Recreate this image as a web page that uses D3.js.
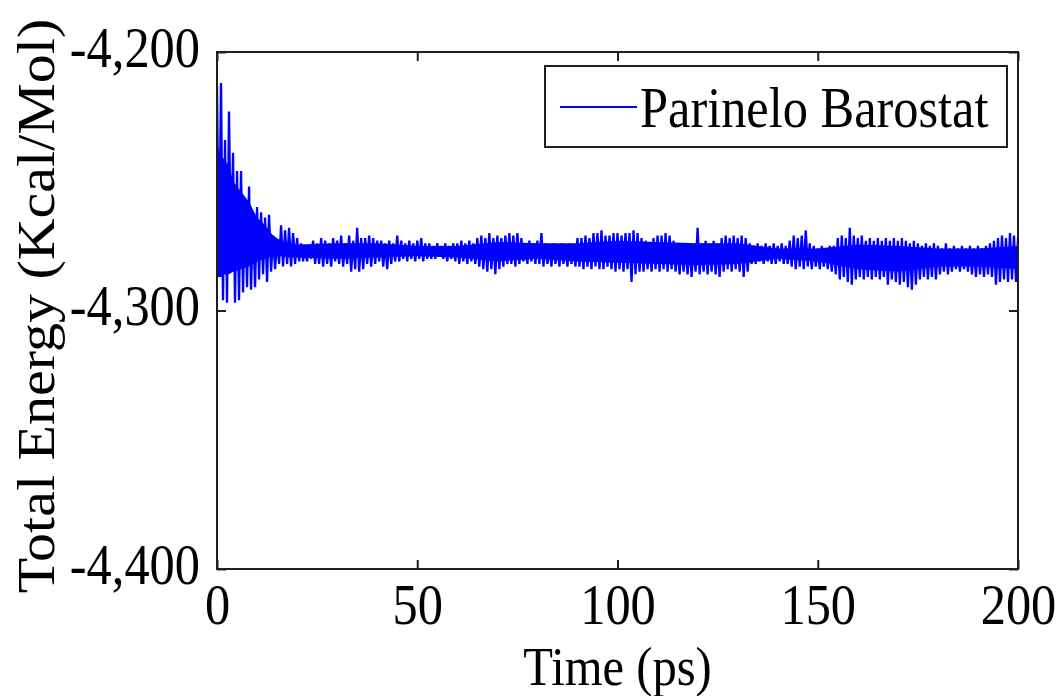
<!DOCTYPE html>
<html>
<head>
<meta charset="utf-8">
<script src="https://cdn.jsdelivr.net/npm/d3@7/dist/d3.min.js"></script>
<style>
  html, body { margin: 0; padding: 0; background: #fff; }
  svg { display: block; }
</style>
</head>
<body>
<svg id="chart" width="1060" height="696"></svg>
<script>
// ---- data ----
const seriesName = "Parinelo Barostat";
const xTicks = [0, 50, 100, 150, 200];
const yTicks = [-4400, -4300, -4200];
const yTickLabels = ["-4,400", "-4,300", "-4,200"];
const xLabel = "Time (ps)";
const yLabel = "Total Energy (Kcal/Mol)";
const timePs = d3.range(0, 201); // sample times 0..200 ps (1 ps bins)

// upper envelope (max within each 1 ps bin), Kcal/Mol
const energyHigh = [
  -4213, -4212, -4234, -4223, -4239, -4246, -4246, -4257, -4252, -4265,
  -4260, -4262, -4264, -4263, -4271, -4273, -4267, -4269, -4268, -4270,
  -4272, -4274, -4276, -4275, -4273, -4274, -4272, -4273, -4274, -4272,
  -4273, -4271, -4274, -4271, -4273, -4268, -4272, -4272, -4271, -4272,
  -4273, -4273, -4274, -4273, -4274, -4271, -4273, -4274, -4273, -4274,
  -4273, -4272, -4274, -4274, -4275, -4274, -4275, -4274, -4275, -4274,
  -4274, -4273, -4274, -4273, -4274, -4272, -4271, -4272, -4270, -4272,
  -4271, -4272, -4271, -4270, -4271, -4270, -4272, -4274, -4273, -4274,
  -4273, -4270, -4274, -4275, -4274, -4275, -4274, -4275, -4274, -4275,
  -4272, -4272, -4271, -4272, -4270, -4270, -4269, -4271, -4271, -4270,
  -4270, -4271, -4270, -4270, -4269, -4270, -4272, -4273, -4274, -4272,
  -4271, -4271, -4270, -4271, -4273, -4275, -4274, -4275, -4274, -4275,
  -4268, -4274, -4273, -4274, -4273, -4274, -4272, -4271, -4272, -4271,
  -4272, -4271, -4272, -4274, -4275, -4274, -4275, -4274, -4275, -4274,
  -4275, -4274, -4275, -4273, -4271, -4272, -4271, -4269, -4274, -4275,
  -4276, -4275, -4276, -4275, -4275, -4272, -4271, -4272, -4268, -4271,
  -4272, -4271, -4273, -4272, -4273, -4272, -4273, -4272, -4273, -4272,
  -4273, -4272, -4273, -4274, -4273, -4274, -4275, -4274, -4275, -4274,
  -4275, -4276, -4274, -4276, -4275, -4276, -4275, -4276, -4275, -4276,
  -4275, -4276, -4275, -4274, -4273, -4272, -4271, -4272, -4270, -4271,
  -4272
];
// lower envelope (min within each 1 ps bin), Kcal/Mol
const energyLow = [
  -4286, -4296, -4297, -4283, -4297, -4296, -4293, -4291, -4292, -4291,
  -4288, -4286, -4289, -4285, -4284, -4282, -4283, -4282, -4283, -4282,
  -4281, -4281, -4281, -4280, -4282, -4282, -4283, -4282, -4283, -4281,
  -4282, -4283, -4282, -4285, -4284, -4285, -4284, -4282, -4283, -4282,
  -4281, -4283, -4284, -4282, -4281, -4281, -4280, -4281, -4280, -4281,
  -4280, -4281, -4280, -4280, -4280, -4279, -4280, -4281, -4280, -4281,
  -4282, -4281, -4282, -4281, -4282, -4283, -4284, -4285, -4284, -4286,
  -4284, -4283, -4282, -4282, -4283, -4282, -4281, -4282, -4281, -4282,
  -4282, -4283, -4282, -4283, -4282, -4283, -4282, -4283, -4282, -4283,
  -4283, -4284, -4283, -4284, -4283, -4284, -4284, -4283, -4284, -4285,
  -4284, -4285, -4284, -4289, -4286, -4285, -4285, -4284, -4285, -4284,
  -4285, -4284, -4285, -4284, -4285, -4286, -4285, -4286, -4287, -4285,
  -4286, -4285, -4286, -4285, -4286, -4287, -4285, -4284, -4285, -4284,
  -4285, -4287, -4285, -4282, -4282, -4281, -4282, -4281, -4282, -4282,
  -4281, -4282, -4282, -4283, -4284, -4283, -4284, -4283, -4284, -4283,
  -4284, -4283, -4284, -4285, -4286, -4288, -4287, -4289, -4290, -4288,
  -4287, -4288, -4287, -4288, -4287, -4288, -4287, -4290, -4288, -4289,
  -4290, -4289, -4291, -4292, -4290, -4288, -4287, -4288, -4287, -4288,
  -4286, -4285, -4286, -4285, -4284, -4285, -4284, -4285, -4286, -4287,
  -4286, -4287, -4286, -4287, -4290, -4289, -4288, -4289, -4288, -4289,
  -4288
];

// densely filled core of the trace (where the oscillation is solid blue)
const coreTime = [0, 1, 2, 3, 4, 6, 8, 10, 12, 14, 16, 18, 20, 30, 40, 50, 60, 70, 80,
                  90, 100, 110, 120, 130, 140, 150, 160, 170, 180, 190, 200];
const coreHigh = [-4236, -4240, -4242, -4244, -4250, -4254, -4258, -4264, -4267, -4271,
                  -4273, -4274, -4274.5, -4274, -4274, -4275, -4275, -4273.5, -4274,
                  -4274, -4273, -4273.5, -4274, -4274, -4276, -4276, -4274.5, -4275,
                  -4276, -4276, -4275];
const coreLow  = [-4287, -4287, -4286, -4286, -4285, -4284, -4283, -4281, -4280, -4279,
                  -4279, -4279.5, -4279.5, -4280, -4279.5, -4279, -4279.5, -4281, -4280,
                  -4281, -4281.5, -4282, -4282.5, -4282, -4280, -4281, -4284, -4285,
                  -4283, -4283, -4284];

// ---- layout ----
const svg = d3.select("#chart");
const W = 1060, H = 696;
const M = { left: 217, right: 1018, top: 52, bottom: 569 };
const FONT = 56, SX = 0.9;
const FAMILY = "'Liberation Serif', 'Times New Roman', Times, serif";
const ink = "#1f1f1f";
const blue = "#0000ff";

svg.append("rect").attr("width", W).attr("height", H).attr("fill", "#fff");

const x = d3.scaleLinear().domain([0, 200]).range([M.left, M.right]);
const y = d3.scaleLinear().domain([-4400, -4200]).range([M.bottom, M.top]);

svg.append("clipPath").attr("id", "clip")
  .append("rect").attr("x", M.left).attr("y", M.top)
  .attr("width", M.right - M.left).attr("height", M.bottom - M.top);

const plot = svg.append("g").attr("clip-path", "url(#clip)");

// solid core
const area = d3.area()
  .x((d, i) => x(coreTime[i]))
  .y0((d, i) => y(coreLow[i]))
  .y1((d, i) => y(coreHigh[i]));
plot.append("path")
  .attr("d", area(coreTime))
  .attr("fill", blue);

// trace: zig-zag between the bin maxima and minima
const pts = [];
timePs.forEach((t, i) => {
  pts.push([t, energyHigh[i]]);
  pts.push([t + 0.5, energyLow[i]]);
});
const line = d3.line().x(d => x(d[0])).y(d => y(d[1]));
plot.append("path")
  .attr("d", line(pts))
  .attr("fill", "none")
  .attr("stroke", blue)
  .attr("stroke-width", 2.3)
  .attr("stroke-linejoin", "bevel");

function styleText(sel, size) {
  sel.style("font-family", FAMILY)
     .style("font-size", size + "px")
     .style("font-weight", "normal")
     .attr("fill", "#000");
}

// axes
const tickLen = 9;
const gx = svg.append("g").attr("transform", `translate(0,${M.bottom})`)
  .call(d3.axisBottom(x).tickValues(xTicks).tickFormat(d3.format("d"))
    .tickSizeInner(-tickLen).tickSizeOuter(0));
gx.select(".domain").remove();
gx.selectAll("line").attr("stroke", ink).attr("stroke-width", 2);
gx.selectAll("text")
  .attr("y", 0).attr("dy", 0)
  .attr("transform", `translate(0,55) scale(${SX},1)`)
  .call(styleText, FONT);

const gy = svg.append("g").attr("transform", `translate(${M.left},0)`)
  .call(d3.axisLeft(y).tickValues(yTicks).tickFormat((d, i) => yTickLabels[i])
    .tickSizeInner(-tickLen).tickSizeOuter(0));
gy.select(".domain").remove();
gy.selectAll("line").attr("stroke", ink).attr("stroke-width", 2);
gy.selectAll("text")
  .attr("x", 0).attr("dy", "0.25em")
  .attr("transform", `translate(-17,0) scale(${SX},1)`)
  .call(styleText, FONT);

const gt = svg.append("g").attr("transform", `translate(0,${M.top})`)
  .call(d3.axisTop(x).tickValues(xTicks).tickFormat("")
    .tickSizeInner(-tickLen).tickSizeOuter(0));
gt.select(".domain").remove();
gt.selectAll("line").attr("stroke", ink).attr("stroke-width", 2);

const gr = svg.append("g").attr("transform", `translate(${M.right},0)`)
  .call(d3.axisRight(y).tickValues(yTicks).tickFormat("")
    .tickSizeInner(-tickLen).tickSizeOuter(0));
gr.select(".domain").remove();
gr.selectAll("line").attr("stroke", ink).attr("stroke-width", 2);

// frame
svg.append("rect")
  .attr("x", M.left).attr("y", M.top)
  .attr("width", M.right - M.left).attr("height", M.bottom - M.top)
  .attr("fill", "none").attr("stroke", ink).attr("stroke-width", 2);

// axis labels
svg.append("text")
  .attr("text-anchor", "middle")
  .attr("transform", `translate(${(M.left + M.right) / 2},685) scale(${SX},1)`)
  .text(xLabel)
  .call(styleText, 54);

svg.append("text")
  .attr("text-anchor", "middle")
  .attr("transform", `translate(54,306) rotate(-90) scale(1,${SX})`)
  .text(yLabel)
  .call(styleText, 58);

// legend
const lg = svg.append("g");
lg.append("rect")
  .attr("x", 545).attr("y", 66).attr("width", 462).attr("height", 81)
  .attr("fill", "#fff").attr("stroke", ink).attr("stroke-width", 2);
lg.append("line")
  .attr("x1", 560).attr("x2", 637).attr("y1", 107).attr("y2", 107)
  .attr("stroke", blue).attr("stroke-width", 2);
lg.append("text")
  .attr("transform", `translate(640,127) scale(${SX},1)`)
  .text(seriesName)
  .call(styleText, FONT);
</script>
</body>
</html>
